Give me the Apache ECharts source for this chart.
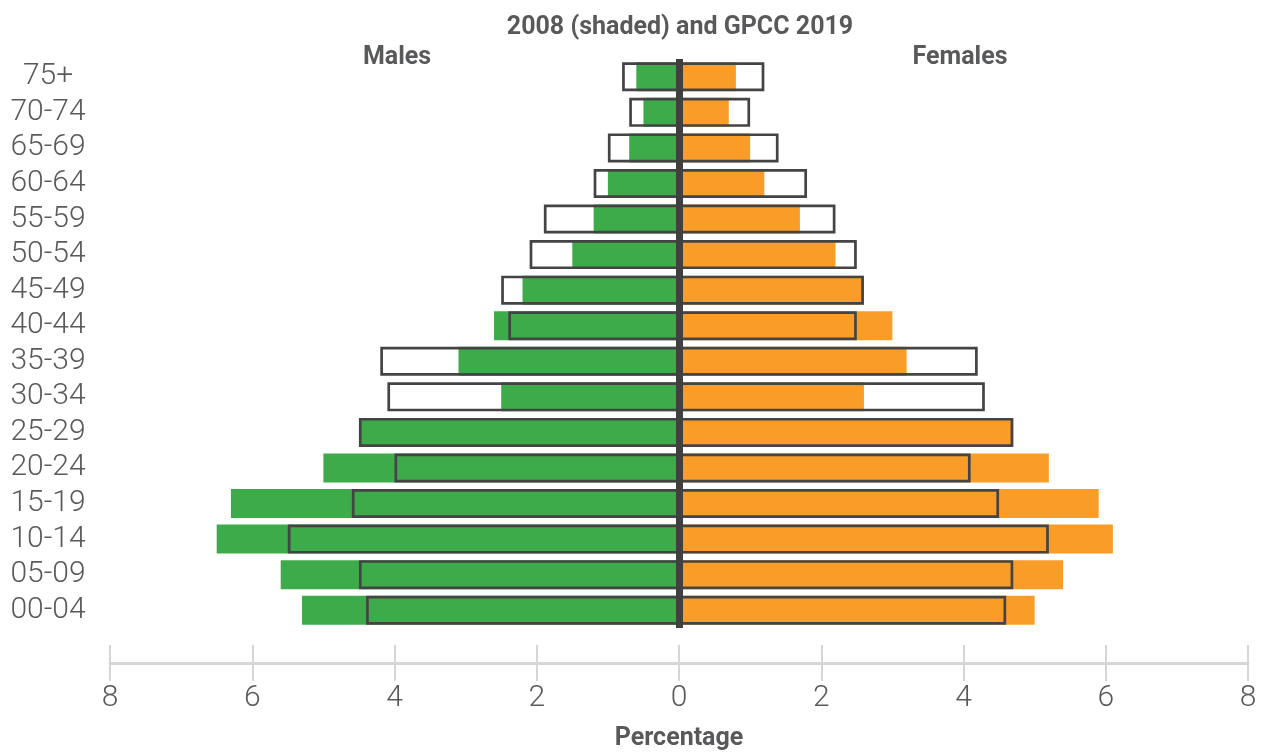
<!DOCTYPE html>
<html>
<head>
<meta charset="utf-8">
<script src="https://cdn.jsdelivr.net/npm/echarts@6/dist/echarts.min.js"></script>
<style>html,body{margin:0;padding:0;background:#fff}#c{width:1268px;height:756px}</style>
</head>
<body>
<div id="c"></div>
<script>
const categories = ['00-04','05-09','10-14','15-19','20-24','25-29','30-34','35-39','40-44','45-49','50-54','55-59','60-64','65-69','70-74','75+'];
const males2008   = [5.3, 5.6, 6.5, 6.3, 5.0, 4.5, 2.5, 3.1, 2.6, 2.2, 1.5, 1.2, 1.0, 0.7, 0.5, 0.6];
const females2008 = [5.0, 5.4, 6.1, 5.9, 5.2, 4.7, 2.6, 3.2, 3.0, 2.6, 2.2, 1.7, 1.2, 1.0, 0.7, 0.8];
const males2019   = [4.4, 4.5, 5.5, 4.6, 4.0, 4.5, 4.1, 4.2, 2.4, 2.5, 2.1, 1.9, 1.2, 1.0, 0.7, 0.8];
const females2019 = [4.6, 4.7, 5.2, 4.5, 4.1, 4.7, 4.3, 4.2, 2.5, 2.6, 2.5, 2.2, 1.8, 1.4, 1.0, 1.2];
const xTicks = [-8, 8, 2];

const neg = a => a.map(v => -v);
const chart = echarts.init(document.getElementById('c'), null, {renderer: 'canvas'});
const font = 'Roboto, "Noto Sans", sans-serif';
const titleStyle = {fontSize: 25, fontWeight: 'bold', color: '#58595b', fontFamily: font};
const BW = 29;
chart.setOption({
  animation: false,
  backgroundColor: '#fff',
  title: [
    {text: '2008 (shaded) and GPCC 2019', left: 675, top: 10, textAlign: 'center', textStyle: titleStyle},
    {text: 'Males', left: 392, top: 40, textAlign: 'center', textStyle: titleStyle},
    {text: 'Females', left: 955, top: 40, textAlign: 'center', textStyle: titleStyle}
  ],
  grid: {left: 110, right: 20, top: 59, height: 570, containLabel: false},
  xAxis: [
    {
      type: 'value', min: xTicks[0], max: xTicks[1], interval: xTicks[2], offset: 35,
      splitLine: {show: false},
      axisLine: {show: true, lineStyle: {color: '#d6d6d6', width: 3}},
      axisTick: {show: true, length: 18, lineStyle: {color: '#d6d6d6', width: 2}},
      axisLabel: {formatter: v => String(Math.abs(v)), fontSize: 30, fontWeight: 300, color: '#5a5a5a', fontFamily: font, margin: 20},
      name: 'Percentage', nameLocation: 'middle', nameGap: 63,
      nameTextStyle: {fontSize: 25, fontWeight: 'bold', color: '#58595b', fontFamily: font}
    },
    {
      type: 'value', min: xTicks[0], max: xTicks[1], interval: xTicks[2], offset: 35, position: 'bottom',
      splitLine: {show: false},
      axisLine: {show: false},
      axisTick: {show: true, inside: true, length: 18, lineStyle: {color: '#d6d6d6', width: 2}},
      axisLabel: {show: false}
    }
  ],
  yAxis: {
    type: 'category', data: categories,
    axisLine: {show: false}, axisTick: {show: false},
    axisLabel: {interval: 0, fontSize: 30, fontWeight: 300, color: '#5a5a5a', fontFamily: font, align: 'center', margin: 62, padding: [7, 0, 0, 0]}
  },
  series: [
    {name: 'Males 2008', type: 'bar', data: neg(males2008), barWidth: BW, barGap: '-100%',
     itemStyle: {color: '#3dab49'}},
    {name: 'Females 2008', type: 'bar', data: females2008, barWidth: BW, barGap: '-100%',
     itemStyle: {color: '#f99d28'}},
    {name: 'Males 2019', type: 'bar', data: neg(males2019), barWidth: BW, barGap: '-100%', z: 3,
     itemStyle: {color: 'rgba(0,0,0,0)', borderColor: '#444', borderWidth: 2.7}},
    {name: 'Females 2019', type: 'bar', data: females2019, barWidth: BW, barGap: '-100%', z: 3,
     itemStyle: {color: 'rgba(0,0,0,0)', borderColor: '#444', borderWidth: 2.7},
     markLine: {silent: true, symbol: 'none', label: {show: false}, z: 5,
       lineStyle: {color: '#404040', width: 7, type: 'solid'}, data: [{xAxis: 0}]}}
  ]
});
</script>
</body>
</html>
